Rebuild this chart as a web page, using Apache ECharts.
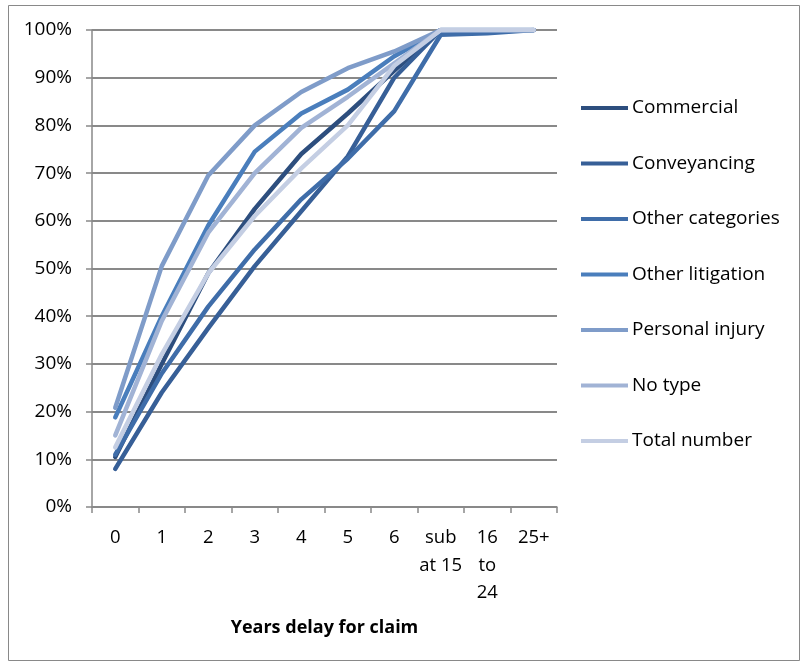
<!DOCTYPE html>
<html>
<head>
<meta charset="utf-8">
<script src="https://cdn.jsdelivr.net/npm/echarts@6/dist/echarts.min.js"></script>
<style>
  html, body { margin: 0; padding: 0; background: #ffffff; }
  #chart { width: 806px; height: 665px; }
</style>
</head>
<body>
<div id="chart"></div>
<script>
// Cumulative share of claims by years of delay, per claim type
const categories = ['0', '1', '2', '3', '4', '5', '6', 'sub\nat 15', '16\nto\n24', '25+'];

const commercial      = [10.5, 30, 49, 62.5, 74, 82.5, 91.5, 100, 100, 100];
const conveyancing    = [8, 24, 37.5, 50.5, 62, 73.5, 90, 100, 100, 100];
const otherCategories = [11, 28, 42, 54, 64.5, 73, 83, 99, 99.3, 100];
const otherLitigation = [18.8, 40, 59, 74.5, 82.5, 87.5, 94.5, 100, 100, 100];
const personalInjury  = [20.8, 50.5, 69.5, 80, 87, 92, 95.5, 100, 100, 100];
const noType          = [15, 39, 57.5, 70, 79.5, 86, 93, 100, 100, 100];
const totalNumber     = [12.5, 32, 49, 61, 71, 80, 92.5, 100, 100, 100];

const yTicks = [0, 10, 20, 30, 40, 50, 60, 70, 80, 90, 100];

const seriesDefs = [
  { name: 'Commercial',       data: commercial,      color: '#2D4E7E' },
  { name: 'Conveyancing',     data: conveyancing,    color: '#375F97' },
  { name: 'Other categories', data: otherCategories, color: '#3F6DA9' },
  { name: 'Other litigation', data: otherLitigation, color: '#4A7EBC' },
  { name: 'Personal injury',  data: personalInjury,  color: '#7F9CC9' },
  { name: 'No type',          data: noType,          color: '#A1B3D5' },
  { name: 'Total number',     data: totalNumber,     color: '#C4CEE3' }
];

const font = '"Open Sans", "Liberation Sans", sans-serif';
const gray = '#898989';

const chart = echarts.init(document.getElementById('chart'), null, { renderer: 'canvas' });

chart.setOption({
  animation: false,
  backgroundColor: '#ffffff',
  graphic: [{
    type: 'rect',
    shape: { x: 8.5, y: 5.5, width: 791, height: 655 },
    style: { fill: 'none', stroke: gray, lineWidth: 1 },
    silent: true
  }],
  grid: { left: 92, right: 249, top: 30, bottom: 158, containLabel: false },
  legend: {
    orient: 'vertical',
    left: 581,
    top: 97,
    padding: 0,
    itemWidth: 47,
    itemHeight: 4,
    itemGap: 33.5,
    itemStyle: { borderWidth: 0 },
    icon: 'rect',
    textStyle: { fontFamily: font, fontSize: 19, color: '#000', lineHeight: 22, padding: [0, 0, 0, -1] },
    data: seriesDefs.map(s => s.name)
  },
  xAxis: {
    type: 'category',
    data: categories,
    boundaryGap: true,
    axisLine: { show: true, lineStyle: { color: gray, width: 1.5 } },
    axisTick: { show: true, length: 6, lineStyle: { color: gray, width: 1.5 } },
    axisLabel: { fontFamily: font, fontSize: 18.5, color: '#000', margin: 17, lineHeight: 27.5, interval: 0, verticalAlign: 'top' },
    name: 'Years delay for claim',
    nameLocation: 'middle',
    nameGap: 121,
    nameTextStyle: { fontFamily: font, fontSize: 18, fontWeight: 'bold', color: '#000', verticalAlign: 'middle' },
    splitLine: { show: false }
  },
  yAxis: {
    type: 'value',
    min: 0,
    max: 100,
    interval: 10,
    axisLine: { show: true, lineStyle: { color: gray, width: 1.5 } },
    axisTick: { show: true, length: 6, lineStyle: { color: gray, width: 1.5 } },
    axisLabel: {
      fontFamily: font, fontSize: 19, color: '#000', margin: 20,
      formatter: v => (yTicks.indexOf(v) >= 0 ? v + '%' : '')
    },
    splitLine: { show: true, lineStyle: { color: gray, width: 2 } }
  },
  series: seriesDefs.map(s => ({
    name: s.name,
    type: 'line',
    data: s.data,
    showSymbol: false,
    symbol: 'none',
    smooth: false,
    color: s.color,
    lineStyle: { width: 4.5, color: s.color, cap: 'round', join: 'round' },
    emphasis: { disabled: true }
  }))
});
</script>
</body>
</html>
